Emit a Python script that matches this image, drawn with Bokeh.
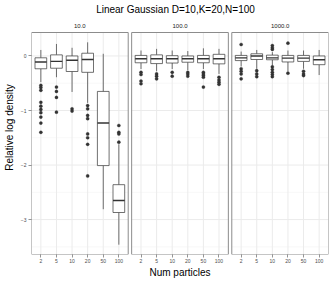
from bokeh.plotting import figure
from bokeh.models import Range1d, FixedTicker
from bokeh.core.properties import value
from bokeh.embed import file_html
from bokeh.resources import INLINE

# ---- data -------------------------------------------------------------
particles = ["2", "5", "10", "20", "50", "100"]
panels = ["10.0", "100.0", "1000.0"]
title_text = "Linear Gaussian D=10,K=20,N=100"

# panel "10.0"
p1_upper = [0.11, 0.22, 0.15, 0.25, 0.04, -1.62]
p1_q3 = [-0.034, 0.02, 0.0, 0.05, -0.65, -2.36]
p1_median = [-0.11, -0.10, -0.08, -0.065, -1.23, -2.65]
p1_q1 = [-0.235, -0.225, -0.285, -0.30, -2.01, -2.87]
p1_lower = [-0.48, -0.39, -0.66, -0.86, -2.81, -3.46]
p1_out = [
    [-0.54, -0.58, -0.63, -0.85, -0.92, -0.98, -1.04, -1.12, -1.23, -1.40],
    [-0.57, -0.65, -0.76, -1.03],
    [-0.97, -1.01],
    [-0.91, -0.97, -1.09, -1.15, -1.43, -1.50, -1.62, -2.2],
    [],
    [-1.275, -1.40, -1.43, -1.58],
]

# panel "100.0"
p2_upper = [0.10, 0.13, 0.10, 0.09, 0.14, 0.13]
p2_q3 = [0.01, 0.02, 0.005, 0.0, 0.01, 0.03]
p2_median = [-0.05, -0.05, -0.05, -0.05, -0.05, -0.05]
p2_q1 = [-0.125, -0.14, -0.13, -0.115, -0.125, -0.145]
p2_lower = [-0.24, -0.28, -0.24, -0.26, -0.24, -0.33]
p2_out = [
    [-0.30, -0.34, -0.46, -0.51],
    [-0.33, -0.37, -0.42],
    [-0.30, -0.37],
    [-0.30, -0.33, -0.37],
    [-0.30, -0.33, -0.36, -0.39, -0.57],
    [-0.39, -0.44, -0.48, -0.52],
]

# panel "1000.0"
p3_upper = [0.08, 0.11, 0.07, 0.10, 0.10, 0.11]
p3_q3 = [0.01, 0.04, 0.015, 0.01, 0.01, 0.0]
p3_median = [-0.035, 0.0, -0.035, -0.04, -0.04, -0.07]
p3_q1 = [-0.085, -0.065, -0.07, -0.11, -0.10, -0.16]
p3_lower = [-0.19, -0.235, -0.18, -0.28, -0.235, -0.35]
p3_out = [
    [0.21, -0.235, -0.28, -0.33, -0.42],
    [-0.27, -0.33, -0.38],
    [0.19, 0.15, 0.12, -0.20, -0.25, -0.30, -0.34, -0.38],
    [0.235, -0.315],
    [-0.28, -0.33, -0.36],
    [],
]

stats = [
    (p1_upper, p1_q3, p1_median, p1_q1, p1_lower, p1_out),
    (p2_upper, p2_q3, p2_median, p2_q1, p2_lower, p2_out),
    (p3_upper, p3_q3, p3_median, p3_q1, p3_lower, p3_out),
]

y_major = [-3, -2, -1, 0]
y_minor = [-3.5, -2.5, -1.5, -0.5]

# ---- layout constants ---------------------------------------------------
FONT = "Liberation Sans"
W, H = 335, 284
LEFT_PX, RIGHT_PX, TOP_PX, BOTTOM_PX = 31, 7, 32, 30   # panel area margins
PAD = 0.6             # discrete-axis expansion on each side
NCAT = len(particles)
PW = NCAT - 1 + 2 * PAD   # panel width in data units
GAP = 0.22
STEP = PW + GAP
Y0, Y1 = -3.64, 0.43
BOXW = 0.75
DARK = "#333333"
GRID = "#ebebeb"
GRID_MINOR = "#f4f4f4"
BORDER = "#8c8c8c"

x0 = 1 - PAD
x1 = x0 + 3 * PW + 2 * GAP
panel_h = H - TOP_PX - BOTTOM_PX
ppu_y = panel_h / (Y1 - Y0)
ppu_x = (W - LEFT_PX - RIGHT_PX) / (x1 - x0)
Ytop = Y1 + TOP_PX / ppu_y     # frame extends to the top edge (room for title/strips)

p = figure(width=W, height=H, output_backend="svg", toolbar_location=None,
           x_range=Range1d(x0, x1), y_range=Range1d(Y0, Ytop),
           min_border_left=LEFT_PX, min_border_right=RIGHT_PX, min_border_top=0,
           min_border_bottom=BOTTOM_PX)
p.outline_line_color = None
p.xgrid.visible = False
p.ygrid.visible = False

ticks = []
overrides = {}
for k in range(len(panels)):
    off = k * STEP
    left = off + 1 - PAD
    right = left + PW
    p.segment(x0=[left] * len(y_minor), x1=[right] * len(y_minor), y0=y_minor, y1=y_minor,
              line_color=GRID_MINOR, line_width=0.6)
    p.segment(x0=[left] * len(y_major), x1=[right] * len(y_major), y0=y_major, y1=y_major,
              line_color=GRID, line_width=1)
    xs = [off + i + 1 for i in range(NCAT)]
    p.segment(x0=xs, x1=xs, y0=[Y0] * NCAT, y1=[Y1] * NCAT, line_color=GRID, line_width=1)
    for xv, lab in zip(xs, particles):
        ticks.append(xv)
        overrides[xv] = lab

    up, q3, med, q1, lo, outs = stats[k]
    p.segment(x0=xs, x1=xs, y0=q3, y1=up, line_color=DARK, line_width=0.7)
    p.segment(x0=xs, x1=xs, y0=q1, y1=lo, line_color=DARK, line_width=0.7)
    p.vbar(x=xs, width=BOXW, top=q3, bottom=q1, fill_color="white",
           line_color=DARK, line_width=0.7)
    p.segment(x0=[x - BOXW / 2 for x in xs], x1=[x + BOXW / 2 for x in xs],
              y0=med, y1=med, line_color=DARK, line_width=1.4)
    ox, oy = [], []
    for xv, ol in zip(xs, outs):
        for v in ol:
            ox.append(xv)
            oy.append(v)
    p.scatter(x=ox, y=oy, size=3.2, fill_color=DARK, line_color=DARK, line_width=0.3)
    p.quad(left=[left], right=[right], bottom=[Y0], top=[Y1], fill_alpha=0,
           line_color=BORDER, line_width=1)
    # strip label
    p.text(x=[(left + right) / 2], y=[Y1 + 7 / ppu_y], text=[panels[k]],
           text_font=value(FONT), text_font_size="6px", text_color="#1a1a1a",
           text_align="center", text_baseline="middle")

# title
p.text(x=[x0 + (175 - LEFT_PX) / ppu_x], y=[Y1 + (TOP_PX - 9) / ppu_y], text=[title_text],
       text_font=value(FONT), text_font_size="10px", text_color="black",
       text_align="center", text_baseline="middle")

for ax in (p.xaxis, p.yaxis):
    ax.axis_line_color = None
    ax.major_tick_line_color = "#4d4d4d"
    ax.major_tick_line_width = 0.6
    ax.major_tick_out = 3
    ax.major_tick_in = 0
    ax.minor_tick_line_color = None
    ax.major_label_text_font = FONT
    ax.major_label_text_font_size = "5px"
    ax.major_label_text_color = "#4d4d4d"
    ax.major_label_standoff = 2
    ax.axis_label_text_font = FONT
    ax.axis_label_text_font_size = "10px"
    ax.axis_label_text_font_style = "normal"
    ax.axis_label_text_color = "black"
    ax.axis_label_standoff = 3

p.xaxis.major_label_standoff = 1
p.xaxis.axis_label_standoff = 1
p.xaxis.ticker = FixedTicker(ticks=ticks)
p.xaxis.major_label_overrides = overrides
p.xaxis.axis_label = "Num particles"
p.yaxis.ticker = FixedTicker(ticks=y_major)
p.yaxis.axis_label = "Relative log density"

open("out.html", "w").write(file_html(p, INLINE))
